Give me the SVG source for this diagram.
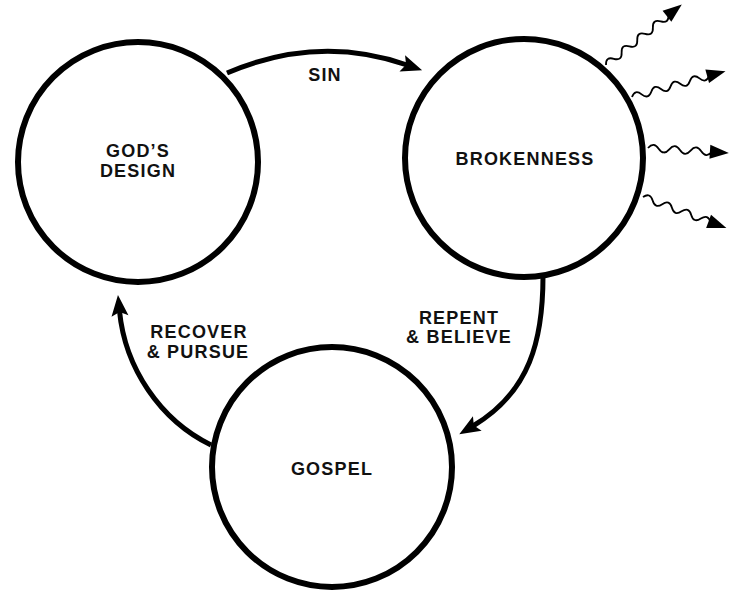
<svg xmlns="http://www.w3.org/2000/svg" width="731" height="592" viewBox="0 0 731 592">
  <style>
    .node { fill: #ffffff; stroke: #000000; stroke-width: 6; }
    .conn { fill: none; stroke: #000000; stroke-width: 5; }
    .wave { fill: none; stroke: #000000; stroke-width: 1.8; }
    .head { fill: #000000; stroke: none; }
    .lbl { font-family: "Liberation Sans", Arial, sans-serif; font-weight: bold; font-size: 18px; letter-spacing: 1.2px; fill: #111111; text-anchor: middle; }
  </style>
  <defs>
    <marker id="arrow" markerUnits="userSpaceOnUse" markerWidth="40" markerHeight="40" refX="0" refY="0" orient="auto" overflow="visible">
      <path d="M-5,-8.5 L16,0 L-5,8.5 L-1,0 Z" fill="#000000"/>
    </marker>
  </defs>
  <rect x="0" y="0" width="731" height="592" fill="#ffffff"/>

  <g id="connectors">
    <path class="conn" d="M227,73 Q318,34 407,65" marker-end="url(#arrow)"/>
    <path class="conn" d="M543,276 C543,340 530,392 473,426" marker-end="url(#arrow)"/>
    <path class="conn" d="M211,445 C160,420 125,368 119.5,311" marker-end="url(#arrow)"/>

    <g transform="translate(606,65) rotate(-38.6)">
      <path class="wave" d="M0,0 q5,-7 10,0 t10,0 t10,0 t10,0 t10,0 t10,0 t10,0 t10,0"/>
      <path class="head" d="M78,-7 L97,0 L78,7 Z"/>
    </g>
    <g transform="translate(632,97) rotate(-15.4)">
      <path class="wave" d="M0,0 q5,-7 10,0 t10,0 t10,0 t10,0 t10,0 t10,0 t10,0 t10,0"/>
      <path class="head" d="M78,-7 L97,0 L78,7 Z"/>
    </g>
    <g transform="translate(648,148) rotate(3.5)">
      <path class="wave" d="M0,0 q5.33,-7 10.67,0 t10.67,0 t10.67,0 t10.67,0 t10.67,0 t10.67,0"/>
      <path class="head" d="M62,-7 L81,0 L62,7 Z"/>
    </g>
    <g transform="translate(643,197) rotate(20.4)">
      <path class="wave" d="M0,0 q5.14,-7 10.29,0 t10.29,0 t10.29,0 t10.29,0 t10.29,0 t10.29,0 t10.29,0"/>
      <path class="head" d="M70,-7 L89,0 L70,7 Z"/>
    </g>

    <text class="lbl" x="325" y="81">SIN</text>
    <text class="lbl" x="459" y="324">REPENT</text>
    <text class="lbl" x="459" y="343">&amp; BELIEVE</text>
    <text class="lbl" x="199" y="338">RECOVER</text>
    <text class="lbl" x="198" y="358">&amp; PURSUE</text>
  </g>

  <g id="gods-design">
    <circle class="node" cx="138" cy="162" r="120"/>
    <text class="lbl" x="138" y="157">GOD’S</text>
    <text class="lbl" x="138" y="177">DESIGN</text>
  </g>
  <g id="brokenness">
    <circle class="node" cx="524" cy="158" r="119"/>
    <text class="lbl" x="525" y="165">BROKENNESS</text>
  </g>
  <g id="gospel">
    <circle class="node" cx="332" cy="467" r="120"/>
    <text class="lbl" x="332" y="475">GOSPEL</text>
  </g>
</svg>
